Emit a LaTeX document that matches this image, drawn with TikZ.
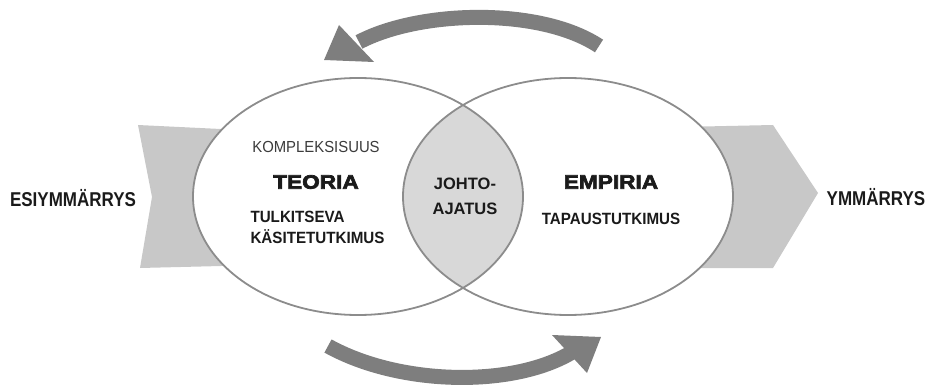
\documentclass[tikz,border=0pt]{standalone}
\usepackage{fontspec}
\setmainfont{Liberation Sans}
\newfontfamily\narrowsans{Liberation Sans}[FakeStretch=0.85]
\newfontfamily\heavysans{Liberation Sans}[BoldFeatures={FakeStretch=1.16,FakeBold=3.5}]
\newfontfamily\midsans{Liberation Sans}[FakeStretch=0.93]

\definecolor{chevgray}{HTML}{C8C8C8}
\definecolor{lensgray}{HTML}{D8D8D8}
\definecolor{cyclegray}{HTML}{7E7E7E}
\definecolor{rimgray}{HTML}{8C8C8C}
\definecolor{ink}{HTML}{1A1A1A}

\tikzset{
  chevron/.style={fill=chevgray},
  cyclearrow/.style={draw=cyclegray, line width=15pt},
  cyclehead/.style={fill=cyclegray},
  circlerim/.style={draw=rimgray, line width=1.8pt},
  outerlabel/.style={text=ink, font=\narrowsans\bfseries\fontsize{20}{24}\selectfont},
  fieldtitle/.style={text=ink, font=\heavysans\bfseries\fontsize{19.5}{23}\selectfont},
  fieldnote/.style={text=ink, font=\midsans\bfseries\fontsize{16.3}{20}\selectfont, align=left},
  plainnote/.style={text=ink!85, font=\midsans\fontsize{16}{20}\selectfont},
  corelabel/.style={text=ink, font=\bfseries\fontsize{16.5}{25}\selectfont, align=center},
}

\begin{document}
\begin{tikzpicture}[x=1pt, y=-1pt]
\useasboundingbox (0,0) rectangle (926,390);

% input and output chevrons (partly hidden behind the circles)
\fill[chevron] (138,125) -- (262,131) -- (262,265) -- (140,268) -- (152,197) -- cycle;
\fill[chevron] (680,127) -- (773,125) -- (818,193) -- (773,268) -- (680,268) -- cycle;

% the two overlapping fields
\coordinate (tc) at (358,196.5);
\coordinate (ec) at (568,196.5);
\fill[white] (tc) ellipse [x radius=165pt, y radius=118.5pt];
\fill[white] (ec) ellipse [x radius=165pt, y radius=118.5pt];
\begin{scope}
  \clip (tc) ellipse [x radius=165pt, y radius=118.5pt];
  \fill[lensgray] (ec) ellipse [x radius=165pt, y radius=118.5pt];
\end{scope}
\path[circlerim] (tc) ellipse [x radius=165pt, y radius=118.5pt];
\path[circlerim] (ec) ellipse [x radius=165pt, y radius=118.5pt];

% cycle arrows
\coordinate (ta) at (599,46);
\coordinate (tb) at (359,42);
\draw[cyclearrow] (ta) .. controls (540,7) and (420,10) .. (tb);
\fill[cyclehead] (324,60) -- (339,25) -- (374,62) -- cycle;

\coordinate (ba) at (328,346);
\coordinate (bb) at (574,351);
\draw[cyclearrow] (ba) .. controls (400,386) and (515,388) .. (bb);
\fill[cyclehead] (601,337) -- (552,335) -- (587,373) -- cycle;

% labels
\node[outerlabel] (pre) at (73,198) {ESIYMMÄRRYS};
\node[outerlabel] (post) at (876,197) {YMMÄRRYS};

\node[plainnote] (komp) at (316,147) {KOMPLEKSISUUS};
\node[fieldtitle] (teoria) at (316,182) {TEORIA};
\node[fieldnote, anchor=west] (tulk) at (247,217) {TULKITSEVA};
\node[fieldnote, anchor=west] (kasite) at (247,237) {KÄSITETUTKIMUS};

\node[corelabel] (johto) at (465,196) {JOHTO-\\AJATUS};

\node[fieldtitle] (empiria) at (611,182) {EMPIRIA};
\node[fieldnote] (tapaus) at (611,219) {TAPAUSTUTKIMUS};
\end{tikzpicture}
\end{document}
